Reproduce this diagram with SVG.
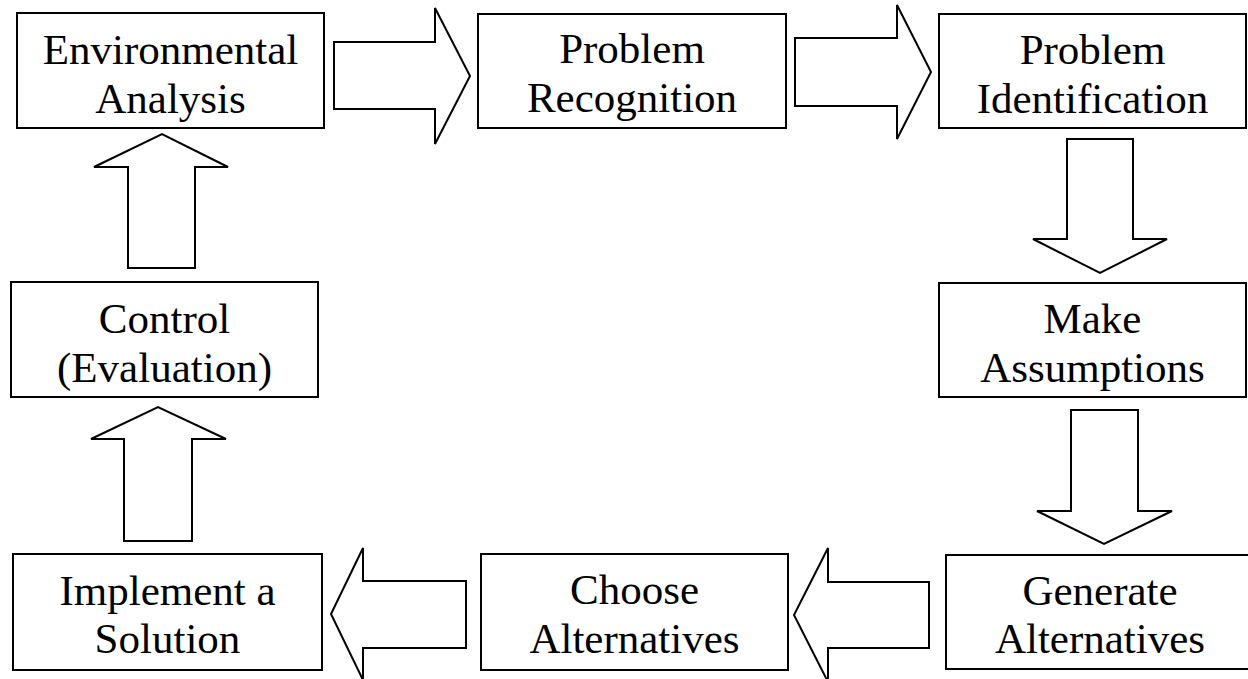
<svg xmlns="http://www.w3.org/2000/svg" width="1248" height="679" viewBox="0 0 1248 679">
<style>
.box{fill:#fff;stroke:#000;stroke-width:2}
.arr{fill:#fff;stroke:#000;stroke-width:2;stroke-linejoin:miter}
text{font-family:"Liberation Serif","Times New Roman",serif;font-size:43px;fill:#000;text-anchor:middle}
</style>
<rect width="1248" height="679" fill="#fff"/>
<g id="connectors">
<polygon class="arr" points="334,42 435,42 435,8 470,76 435,144 435,109 334,109"/>
<polygon class="arr" points="795,38 897,38 897,5 931,72 897,139 897,106 795,106"/>
<polygon class="arr" points="1067,139 1133,139 1133,239 1167,239 1100,273 1033,239 1067,239"/>
<polygon class="arr" points="1071,410 1138,410 1138,511 1172,511 1104,544 1037,511 1071,511"/>
<polygon class="arr" points="929,582 929,648 828,648 828,682 794,615 828,548 828,582"/>
<polygon class="arr" points="466,581 466,648 363,648 363,680 331,614 363,548 363,581"/>
<polygon class="arr" points="124,541 192,541 192,439 226,439 158,407 91,439 124,439"/>
<polygon class="arr" points="128,268 195,268 195,167 228,167 162,134 94,167 128,167"/>
</g>
<g id="env">
<rect class="box" x="17" y="13" width="307" height="115"/>
<text x="170.5" y="64">Environmental</text>
<text x="170.5" y="113">Analysis</text>
</g>
<g id="recog">
<rect class="box" x="478" y="14" width="308" height="114"/>
<text x="632" y="63">Problem</text>
<text x="632" y="112">Recognition</text>
</g>
<g id="ident">
<rect class="box" x="939" y="14" width="307" height="114"/>
<text x="1092.5" y="64">Problem</text>
<text x="1092.5" y="113">Identification</text>
</g>
<g id="assume">
<rect class="box" x="939" y="283" width="307" height="114"/>
<text x="1092.5" y="333">Make</text>
<text x="1092.5" y="382">Assumptions</text>
</g>
<g id="generate">
<rect class="box" x="946" y="555" width="308" height="114"/>
<text x="1100" y="605">Generate</text>
<text x="1100" y="653">Alternatives</text>
</g>
<g id="choose">
<rect class="box" x="481" y="554" width="307" height="116"/>
<text x="634.5" y="604">Choose</text>
<text x="634.5" y="653">Alternatives</text>
</g>
<g id="implement">
<rect class="box" x="13" y="554" width="309" height="116"/>
<text x="167.5" y="605">Implement a</text>
<text x="167.5" y="653">Solution</text>
</g>
<g id="control">
<rect class="box" x="11" y="282" width="307" height="115"/>
<text x="164.5" y="333">Control</text>
<text x="164.5" y="382">(Evaluation)</text>
</g>
</svg>
